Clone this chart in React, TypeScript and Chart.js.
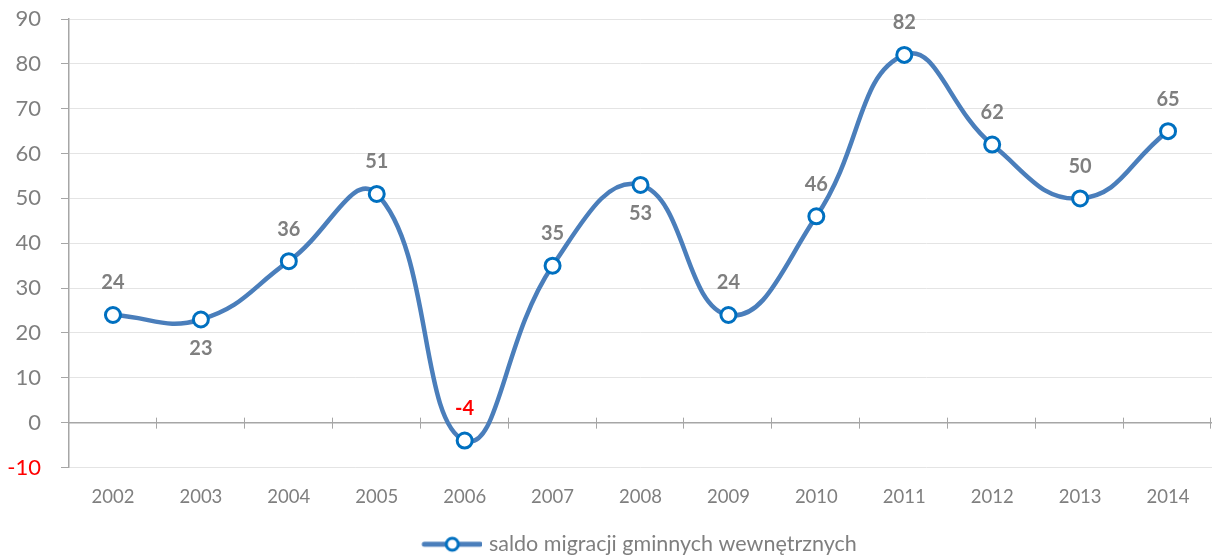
import React, { useEffect, useRef } from "react";
import { Chart, registerables } from "chart.js";

Chart.register(...registerables);

const years = ["2002", "2003", "2004", "2005", "2006", "2007", "2008", "2009", "2010", "2011", "2012", "2013", "2014"];
const saldo = [24, 23, 36, 51, -4, 35, 53, 24, 46, 82, 62, 50, 65];
const seriesLabel = "saldo migracji gminnych wewnętrznych";
const yMin = -10;
const yMax = 90;
const yStep = 10;
const labelsBelow = [1, 6];

const FONT = "Lato, 'Open Sans', sans-serif";
const GRAY_TEXT = "#7f7f7f";
const AXIS_GRAY = "#a6a6a6";
const LINE_BLUE = "#4a7ebb";
const MARK_BLUE = "#0070c0";

function makeLegendIcon(): HTMLCanvasElement {
  const c = document.createElement("canvas");
  c.width = 62;
  c.height = 20;
  const g = c.getContext("2d")!;
  g.strokeStyle = LINE_BLUE;
  g.lineWidth = 5;
  g.lineCap = "round";
  g.beginPath();
  g.moveTo(4, 10);
  g.lineTo(60, 10);
  g.stroke();
  g.beginPath();
  g.arc(32, 10, 6, 0, Math.PI * 2);
  g.fillStyle = "#ffffff";
  g.fill();
  g.lineWidth = 3;
  g.strokeStyle = MARK_BLUE;
  g.stroke();
  return c;
}

const zeroLinePlugin = {
  id: "zeroLine",
  beforeDatasetsDraw(chart: any) {
    const { ctx, chartArea, scales } = chart;
    const y = scales.y.getPixelForValue(0);
    const xs = scales.x;
    ctx.save();
    ctx.strokeStyle = AXIS_GRAY;
    ctx.lineWidth = 1.5;
    ctx.beginPath();
    ctx.moveTo(chartArea.left, y);
    ctx.lineTo(chartArea.right, y);
    ctx.stroke();
    const n = years.length;
    const step = (chartArea.right - chartArea.left) / n;
    ctx.lineWidth = 1;
    for (let i = 1; i <= n; i++) {
      const x = Math.min(Math.round(xs.getPixelForValue(i - 1) + step / 2), chartArea.right - 1) - 0.5;
      ctx.beginPath();
      ctx.moveTo(x, y - 5);
      ctx.lineTo(x, y + 6);
      ctx.stroke();
    }
    ctx.restore();
  },
};

const dataLabelPlugin = {
  id: "dataLabels",
  afterDatasetsDraw(chart: any) {
    const meta = chart.getDatasetMeta(0);
    const ctx = chart.ctx;
    ctx.save();
    ctx.font = `bold 20px ${FONT}`;
    ctx.textAlign = "center";
    ctx.textBaseline = "middle";
    meta.data.forEach((pt: any, i: number) => {
      const v = saldo[i];
      ctx.fillStyle = v < 0 ? "#ff0000" : GRAY_TEXT;
      const dy = labelsBelow.includes(i) ? 29 : -32;
      ctx.fillText(String(v), pt.x, pt.y + dy);
    });
    ctx.restore();
  },
};

export default function App() {
  const ref = useRef<HTMLCanvasElement | null>(null);

  useEffect(() => {
    document.body.style.margin = "0";
    const icon = makeLegendIcon();
    const chart = new Chart(ref.current!, {
      type: "line",
      data: {
        labels: years,
        datasets: [
          {
            label: seriesLabel,
            data: saldo,
            borderColor: LINE_BLUE,
            borderWidth: 4.5,
            tension: 0.45,
            pointRadius: 7.5,
            pointHoverRadius: 7.5,
            pointBorderWidth: 3,
            pointBorderColor: MARK_BLUE,
            pointBackgroundColor: "#ffffff",
            fill: false,
            clip: false as any,
          },
        ],
      },
      options: {
        animation: false,
        responsive: true,
        maintainAspectRatio: false,
        layout: { autoPadding: false, padding: { top: 19, right: 0, left: 0, bottom: -6 } },
        plugins: {
          tooltip: { enabled: false },
          legend: {
            position: "bottom",
            fullSize: false,
            labels: {
              usePointStyle: true,
              pointStyleWidth: 54,
              color: GRAY_TEXT,
              font: { family: FONT, size: 21.5 },
              padding: 0,
              generateLabels: () => [
                {
                  text: seriesLabel,
                  fillStyle: "#ffffff",
                  strokeStyle: MARK_BLUE,
                  lineWidth: 0,
                  pointStyle: icon as any,
                  hidden: false,
                  datasetIndex: 0,
                  fontColor: GRAY_TEXT,
                } as any,
              ],
            },
          },
        },
        scales: {
          x: {
            type: "category",
            offset: true,
            grid: { display: false, drawTicks: false },
            border: { display: false },
            ticks: {
              color: GRAY_TEXT,
              font: { family: FONT, size: 18.5 },
              padding: 18,
              maxRotation: 0,
              autoSkip: false,
            },
            afterFit: (s: any) => {
              s.paddingLeft = 0;
              s.paddingRight = 0;
              s.height = 66;
            },
          },
          y: {
            min: yMin,
            max: yMax,
            ticks: {
              stepSize: yStep,
              color: (c: any) => (c.tick && c.tick.value < 0 ? "#ff0000" : GRAY_TEXT),
              font: { family: FONT, size: 22 },
              padding: 20,
            },
            grid: {
              color: "#e4e4e4",
              lineWidth: 1,
              tickLength: 8,
              tickColor: AXIS_GRAY,
            },
            border: { color: AXIS_GRAY, width: 1.5 },
            afterFit: (s: any) => {
              s.width = 69;
              s.paddingTop = 0;
              s.paddingBottom = 0;
            },
          },
        },
      },
      plugins: [zeroLinePlugin, dataLabelPlugin],
    });
    return () => chart.destroy();
  }, []);

  return (
    <div style={{ width: 1212, height: 559, position: "relative" }}>
      <canvas ref={ref} />
    </div>
  );
}
